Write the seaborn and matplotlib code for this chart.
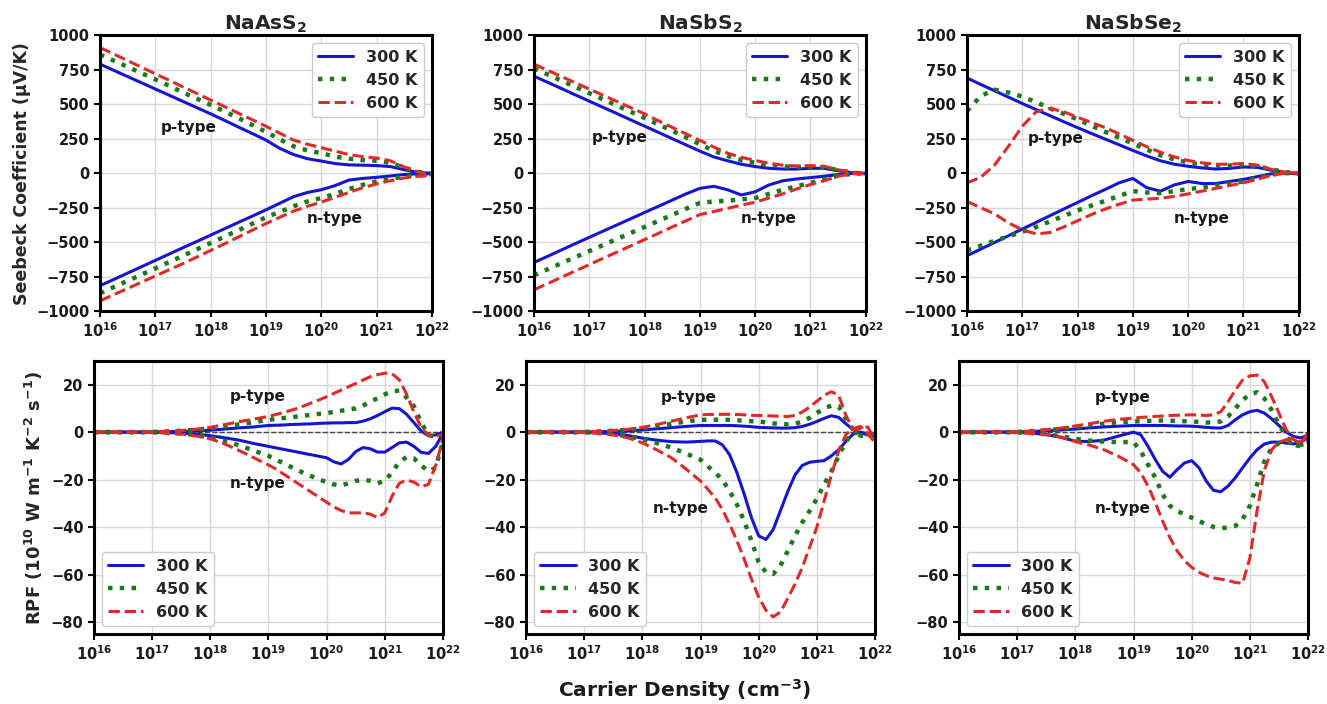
import numpy as np
import pandas as pd
import matplotlib
matplotlib.use("Agg")
import matplotlib.pyplot as plt
import seaborn as sns
from matplotlib.ticker import FixedLocator, NullLocator

# ------------------ DATA ------------------
materials = ["NaAsS$_2$", "NaSbS$_2$", "NaSbSe$_2$"]
temps = ["300 K", "450 K", "600 K"]
x_ticks = [1e16, 1e17, 1e18, 1e19, 1e20, 1e21, 1e22]

# log10 of carrier density (cm^-3) for the Seebeck curves
seeb_log_n = [16.0, 16.25, 16.5, 16.75, 17.0, 17.25, 17.5, 17.75, 18.0, 18.25, 18.5, 18.75,
              19.0, 19.25, 19.5, 19.75, 20.0, 20.25, 20.5, 20.75, 21.0, 21.25, 21.5, 21.75, 22.0]

# log10 of carrier density for the RPF curves (finer above 1e19)
rpf_log_n = [16.0, 16.25, 16.5, 16.75, 17.0, 17.25, 17.5, 17.75, 18.0, 18.25, 18.5, 18.75,
             19.0, 19.125, 19.25, 19.375, 19.5, 19.625, 19.75, 19.875, 20.0, 20.125, 20.25, 20.375,
             20.5, 20.625, 20.75, 20.875, 21.0, 21.125, 21.25, 21.375, 21.5, 21.625, 21.75, 21.875, 22.0]

# Seebeck coefficient (uV/K), NaAsS2
seeb_as_p300 = [790, 745, 700, 655, 610, 565, 520, 475, 430, 383, 335, 288, 240, 180, 135, 105, 88, 70, 60, 58, 55, 48, 25, 5, 0]
seeb_as_p450 = [860, 815, 770, 725, 680, 633, 585, 540, 495, 448, 400, 350, 300, 245, 195, 165, 145, 120, 105, 95, 90, 75, 40, 10, -5]
seeb_as_p600 = [910, 863, 815, 768, 720, 673, 625, 578, 530, 483, 435, 388, 340, 290, 240, 210, 185, 160, 135, 120, 110, 90, 45, 10, -15]
seeb_as_n300 = [-815, -770, -724, -678, -632, -586, -540, -495, -449, -403, -357, -312, -266, -218, -170, -140, -120, -90, -50, -38, -30, -20, -10, -5, -5]
seeb_as_n450 = [-870, -825, -780, -735, -690, -644, -598, -552, -506, -460, -414, -367, -320, -280, -240, -205, -180, -150, -115, -85, -60, -40, -25, -15, -12]
seeb_as_n600 = [-925, -880, -835, -790, -745, -700, -655, -608, -560, -512, -463, -414, -365, -320, -275, -240, -210, -175, -140, -105, -78, -55, -35, -22, -18]

# Seebeck coefficient (uV/K), NaSbS2
seeb_sbs_p300 = [703, 658, 613, 567, 522, 477, 432, 386, 341, 296, 250, 205, 160, 118, 90, 65, 48, 35, 30, 30, 35, 35, 18, 3, -5]
seeb_sbs_p450 = [760, 715, 670, 625, 580, 535, 490, 445, 400, 353, 307, 260, 210, 162, 125, 95, 75, 58, 48, 45, 45, 42, 22, 5, -5]
seeb_sbs_p600 = [790, 745, 700, 655, 610, 565, 520, 475, 430, 380, 332, 285, 238, 190, 145, 115, 92, 72, 58, 52, 55, 50, 25, 5, -5]
seeb_sbs_n300 = [-647, -602, -556, -510, -465, -420, -375, -330, -285, -240, -195, -150, -110, -95, -120, -158, -135, -85, -55, -42, -32, -22, -10, -2, 0]
seeb_sbs_n450 = [-740, -696, -652, -608, -565, -521, -477, -433, -390, -346, -302, -258, -215, -205, -200, -190, -180, -150, -120, -95, -70, -45, -18, -5, 0]
seeb_sbs_n600 = [-845, -800, -754, -708, -663, -617, -572, -527, -481, -436, -390, -345, -300, -278, -255, -232, -210, -180, -150, -115, -82, -55, -22, -5, 0]

# Seebeck coefficient (uV/K), NaSbSe2
seeb_sbse_p300 = [690, 643, 597, 551, 505, 461, 417, 373, 330, 288, 247, 206, 165, 125, 90, 65, 50, 38, 30, 35, 45, 42, 22, 5, 0]
seeb_sbse_p450 = [450, 560, 605, 585, 555, 515, 470, 430, 390, 345, 300, 258, 215, 172, 130, 100, 78, 62, 55, 55, 60, 52, 28, 8, 0]
seeb_sbse_p600 = [-70, -30, 60, 195, 340, 445, 470, 445, 405, 368, 330, 285, 238, 192, 152, 118, 92, 75, 65, 65, 70, 58, 28, 8, 0]
seeb_sbse_n300 = [-598, -550, -502, -453, -405, -357, -308, -260, -212, -164, -118, -70, -38, -105, -130, -85, -60, -75, -75, -60, -45, -25, -5, 0, -5]
seeb_sbse_n450 = [-560, -525, -490, -458, -425, -390, -350, -310, -270, -235, -200, -165, -130, -140, -145, -130, -115, -105, -90, -75, -60, -35, -10, 0, 0]
seeb_sbse_n600 = [-205, -250, -295, -360, -410, -440, -430, -390, -345, -300, -260, -225, -195, -188, -182, -168, -150, -130, -110, -90, -70, -45, -15, 0, 0]

# RPF (1e10 W m^-1 K^-2 s^-1), NaAsS2
rpf_as_p300 = [0, 0, 0, 0, 0.1, 0.2, 0.3, 0.5, 0.8, 1.3, 1.8, 2.2,
               2.8, 2.9, 3.0, 3.2, 3.3, 3.4, 3.5, 3.7, 3.8, 3.9, 3.9, 4.0, 4.0, 4.6, 5.6, 7.0, 8.6, 10.1, 9.9, 7.5, 4.0, 0.5, -1.5, -1.2, 0.0]
rpf_as_p450 = [0, 0, 0, 0, 0.1, 0.3, 0.6, 1.0, 1.6, 2.4, 3.3, 4.2,
               5.2, 5.5, 5.9, 6.2, 6.6, 7.0, 7.3, 7.7, 8.0, 8.5, 9.0, 9.5, 10.0, 11.2, 12.8, 14.3, 15.9, 17.2, 17.5, 14.5, 11.0, 4.0, -1.2, -2.0, -1.5]
rpf_as_p600 = [0, 0, 0, 0, 0.1, 0.3, 0.7, 1.2, 2.0, 3.2, 4.4, 5.5,
               6.6, 7.4, 8.2, 9.1, 10.0, 11.2, 12.4, 13.6, 14.9, 16.3, 17.7, 19.1, 20.5, 21.9, 23.3, 24.2, 24.8, 24.6, 22.0, 16.0, 8.5, 2.0, -1.3, -1.8, -1.0]
rpf_as_n300 = [0, 0, 0, 0, -0.1, -0.2, -0.4, -0.8, -1.5, -2.4, -3.4, -4.8,
               -6.0, -6.6, -7.2, -7.8, -8.4, -9.0, -9.6, -10.2, -10.8, -12.5, -13.4, -11.5, -8.2, -6.5, -7.0, -8.4, -8.4, -6.5, -4.5, -4.2, -6.0, -8.5, -9.0, -6.0, -0.5]
rpf_as_n450 = [0, 0, 0, 0, -0.1, -0.3, -0.6, -1.2, -2.3, -3.8, -5.6, -7.8,
               -10.0, -11.5, -13.0, -14.5, -16.0, -17.4, -18.7, -20.0, -21.0, -22.0, -22.5, -21.5, -20.5, -20.0, -20.5, -21.5, -20.5, -17.0, -12.5, -10.5, -11.0, -14.0, -16.5, -15.0, -4.0]
rpf_as_n600 = [0, 0, 0, 0, -0.1, -0.4, -0.8, -1.6, -2.8, -5.0, -7.8, -10.8,
               -13.8, -15.5, -17.5, -19.5, -21.5, -23.5, -25.5, -27.5, -29.5, -31.5, -33.0, -34.0, -34.0, -34.0, -34.5, -36.0, -34.0, -27.0, -21.5, -20.2, -21.0, -23.0, -22.0, -14.0, -3.0]

# RPF, NaSbS2
rpf_sbs_p300 = [0, 0, 0, 0, 0.1, 0.2, 0.3, 0.5, 0.9, 1.4, 1.9, 2.4,
                2.8, 2.8, 2.8, 2.8, 2.8, 2.7, 2.5, 2.3, 2.0, 1.9, 1.8, 1.7, 1.7, 1.9, 2.4, 3.3, 4.5, 5.8, 6.9, 6.2, 3.5, 1.0, -0.5, -1.0, -1.8]
rpf_sbs_p450 = [0, 0, 0, 0, 0.1, 0.3, 0.6, 1.0, 1.6, 2.5, 3.5, 4.5,
                5.2, 5.2, 5.2, 5.2, 5.2, 5.0, 4.8, 4.6, 4.5, 4.1, 3.7, 3.4, 3.3, 3.5, 4.5, 6.0, 8.0, 10.0, 11.2, 10.9, 5.5, 1.0, -1.5, -1.5, -0.5]
rpf_sbs_p600 = [0, 0, 0, 0, 0.1, 0.3, 0.7, 1.2, 2.0, 3.2, 4.6, 6.0,
                7.3, 7.4, 7.5, 7.5, 7.5, 7.4, 7.3, 7.1, 7.0, 6.9, 6.8, 6.7, 6.6, 7.0, 8.5, 10.5, 13.0, 15.5, 17.0, 15.5, 7.0, 1.0, 1.5, 2.2, -3.5]
rpf_sbs_n300 = [0, 0, 0, 0, -0.1, -0.3, -0.7, -1.4, -2.5, -3.4, -4.0, -4.2,
                -3.9, -3.7, -3.7, -5.3, -9.5, -17.0, -26.0, -36.0, -43.7, -45.2, -41.0, -33.0, -25.0, -18.0, -14.0, -12.7, -12.3, -12.0, -10.0, -7.4, -3.9, -0.8, 0.0, -0.7, -1.8]
rpf_sbs_n450 = [0, 0, 0, 0, -0.1, -0.4, -0.9, -1.8, -3.0, -4.6, -6.5, -9.0,
                -11.6, -14.4, -17.0, -20.0, -24.8, -30.4, -37.4, -45.7, -54.8, -59.0, -59.7, -56.2, -50.0, -43.7, -38.0, -33.2, -28.0, -22.0, -16.5, -10.0, -4.0, 0.0, 0.0, -1.0, -2.0]
rpf_sbs_n600 = [0, 0, 0, 0, -0.1, -0.5, -1.2, -2.4, -4.5, -7.5, -10.8, -15.5,
                -20.6, -24.0, -27.6, -32.5, -38.8, -45.7, -53.4, -61.8, -69.5, -75.0, -77.8, -75.7, -70.0, -63.9, -56.9, -48.5, -40.0, -29.0, -18.0, -8.0, -1.0, 1.5, 2.4, -0.5, -4.5]

# RPF, NaSbSe2
rpf_sbse_p300 = [0, 0, 0, 0, 0.1, 0.3, 0.5, 0.9, 1.3, 1.8, 2.2, 2.5,
                 2.8, 2.8, 2.8, 2.8, 2.8, 2.7, 2.6, 2.6, 2.5, 2.3, 2.0, 1.8, 1.7, 2.8, 5.2, 7.3, 8.6, 9.2, 8.0, 5.6, 2.8, 0.0, -1.8, -2.5, -1.1]
rpf_sbse_p450 = [0, 0, 0, 0, 0.1, 0.4, 0.8, 1.3, 2.0, 2.8, 3.6, 4.2,
                 4.5, 4.6, 4.7, 4.8, 4.9, 4.8, 4.7, 4.6, 4.5, 4.3, 4.0, 4.2, 4.5, 6.6, 10.0, 13.5, 15.9, 16.8, 14.2, 9.3, 3.1, -1.8, -5.3, -6.0, -4.6]
rpf_sbse_p600 = [0, 0, 0, 0, 0.2, 0.5, 1.0, 1.7, 2.6, 3.6, 4.6, 5.4,
                 5.9, 6.2, 6.4, 6.6, 6.8, 7.0, 7.1, 7.2, 7.3, 7.2, 7.0, 7.3, 8.6, 12.8, 17.7, 21.9, 23.7, 24.0, 21.2, 14.9, 8.0, 1.0, -3.2, -4.6, -0.4]
rpf_sbse_n300 = [0, 0, 0, 0, -0.1, -0.4, -1.0, -2.2, -3.8, -4.0, -3.3, -1.6,
                 0.0, -1.1, -6.0, -11.6, -16.5, -19.0, -15.8, -13.0, -12.0, -15.0, -20.6, -24.5, -25.1, -22.7, -19.2, -15.0, -10.9, -7.4, -5.0, -4.2, -4.2, -4.6, -5.0, -4.2, -2.5]
rpf_sbse_n450 = [0, 0, 0, 0, -0.1, -0.4, -0.9, -1.7, -2.8, -3.6, -4.0, -4.2,
                 -4.2, -8.0, -13.7, -19.2, -26.2, -31.0, -33.2, -34.6, -36.0, -37.4, -38.8, -39.9, -40.4, -40.2, -39.5, -36.7, -31.0, -22.0, -12.3, -6.7, -4.6, -4.2, -4.6, -5.3, -4.6]
rpf_sbse_n600 = [0, 0, 0, 0, -0.2, -0.5, -1.1, -2.0, -4.0, -5.5, -7.5, -10.3,
                 -13.7, -17.2, -22.7, -29.7, -37.4, -44.4, -50.0, -54.1, -56.9, -59.0, -60.4, -61.4, -61.9, -62.5, -63.3, -63.6, -53.0, -33.0, -16.0, -7.4, -4.2, -3.2, -3.6, -4.2, -1.8]

# ------------------ STYLE ------------------
sns.set_theme(style="ticks")
plt.rcParams["font.family"] = ["DejaVu Sans"]
plt.rcParams["font.weight"] = "bold"
plt.rcParams["axes.labelweight"] = "bold"
plt.rcParams["axes.titleweight"] = "bold"
plt.rcParams["mathtext.default"] = "bf"

colors = ["#1515d0", "#1a7a1a", "#e02a2a"]
styles = ["-", ":", "--"]
widths = [2.2, 3.2, 2.2]

seeb_density = [10 ** v for v in seeb_log_n]
rpf_density = [10 ** v for v in rpf_log_n]

seebeck = [
    [(seeb_as_p300, seeb_as_n300), (seeb_as_p450, seeb_as_n450), (seeb_as_p600, seeb_as_n600)],
    [(seeb_sbs_p300, seeb_sbs_n300), (seeb_sbs_p450, seeb_sbs_n450), (seeb_sbs_p600, seeb_sbs_n600)],
    [(seeb_sbse_p300, seeb_sbse_n300), (seeb_sbse_p450, seeb_sbse_n450), (seeb_sbse_p600, seeb_sbse_n600)],
]
rpf = [
    [(rpf_as_p300, rpf_as_n300), (rpf_as_p450, rpf_as_n450), (rpf_as_p600, rpf_as_n600)],
    [(rpf_sbs_p300, rpf_sbs_n300), (rpf_sbs_p450, rpf_sbs_n450), (rpf_sbs_p600, rpf_sbs_n600)],
    [(rpf_sbse_p300, rpf_sbse_n300), (rpf_sbse_p450, rpf_sbse_n450), (rpf_sbse_p600, rpf_sbse_n600)],
]

# text positions (log10 n, value) for labels
seeb_text = [[(17.6, 330), (20.25, -325)], [(17.55, 260), (20.25, -325)], [(17.6, 253), (20.25, -325)]]
rpf_text = [[(18.82, 14.8), (18.82, -21.8)], [(18.8, 14.4), (18.66, -32.3)], [(18.82, 14.5), (18.82, -32.0)]]

fig = plt.figure(figsize=(13.27, 7.04), dpi=100)
top_left = [0.0754, 0.4024, 0.7287]
bot_left = [0.0708, 0.3964, 0.7227]


def style_axis(ax):
    ax.set_xscale("log")
    ax.set_xlim(1e16, 1e22)
    ax.xaxis.set_major_locator(FixedLocator(x_ticks))
    ax.xaxis.set_minor_locator(NullLocator())
    ax.grid(True, color="#d8d8d8", linewidth=1)
    for s in ax.spines.values():
        s.set_linewidth(2.2)
        s.set_color("black")
    ax.tick_params(axis="both", width=1.5, length=4, color="black", labelcolor="#1a1a1a")
    ax.tick_params(axis="y", labelsize=10.5)
    ax.tick_params(axis="x", labelsize=10.5)


def draw_curves(ax, density, panel):
    for i, (p_vals, n_vals) in enumerate(panel):
        sns.lineplot(x=density, y=p_vals, ax=ax, color=colors[i], linestyle=styles[i],
                     linewidth=widths[i], label=temps[i])
        sns.lineplot(x=density, y=n_vals, ax=ax, color=colors[i], linestyle=styles[i],
                     linewidth=widths[i])


# ------------------ TOP ROW: SEEBECK ------------------
for k in range(3):
    ax = fig.add_axes([top_left[k], 0.558, 0.250, 0.392])
    draw_curves(ax, seeb_density, seebeck[k])
    style_axis(ax)
    ax.set_ylim(-1000, 1000)
    ax.set_yticks(np.arange(-1000, 1001, 250))
    ax.set_title(materials[k], fontsize=14.5, fontweight="bold", pad=4)
    for (tx, ty), name in zip(seeb_text[k], ["p-type", "n-type"]):
        ax.text(10 ** tx, ty, name, ha="center", va="center", fontsize=11, fontweight="bold",
                color="#1a1a1a")
    ax.legend(loc="upper right", handlelength=2.2, framealpha=1,
              prop={"weight": "bold", "size": 11.5})
    if k == 0:
        ax.set_ylabel("Seebeck Coefficient (μV/K)", fontsize=12.5, fontweight="bold")

# ------------------ BOTTOM ROW: RPF ------------------
for k in range(3):
    ax = fig.add_axes([bot_left[k], 0.0994, 0.263, 0.388])
    ax.axhline(0, color="#444444", linestyle="--", linewidth=1)
    draw_curves(ax, rpf_density, rpf[k])
    style_axis(ax)
    ax.set_ylim(-85, 30)
    ax.set_yticks(np.arange(-80, 21, 20))
    for (tx, ty), name in zip(rpf_text[k], ["p-type", "n-type"]):
        ax.text(10 ** tx, ty, name, ha="center", va="center", fontsize=11, fontweight="bold",
                color="#1a1a1a")
    ax.legend(loc="lower left", handlelength=2.2, framealpha=1,
              prop={"weight": "bold", "size": 11.5})
    if k == 0:
        ax.set_ylabel("RPF (10$^{10}$ W m$^{-1}$ K$^{-2}$ s$^{-1}$)", fontsize=13, fontweight="bold")

fig.text(0.516, 0.02, "Carrier Density (cm$^{-3}$)", ha="center", va="center",
         fontsize=14.5, fontweight="bold", color="#1a1a1a")

fig.savefig("out.png", dpi=100)
